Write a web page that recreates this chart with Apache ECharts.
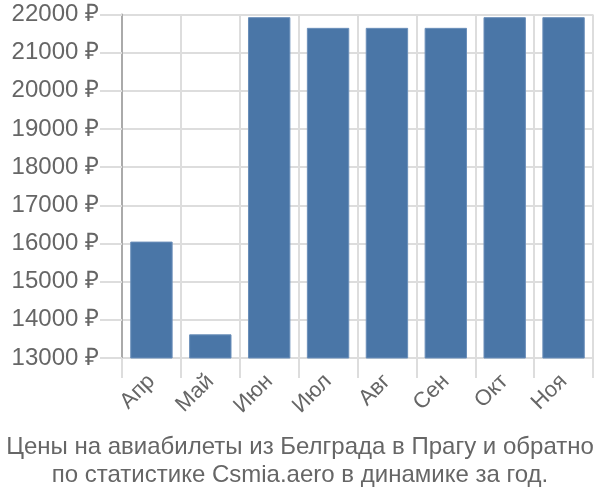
<!DOCTYPE html>
<html><head><meta charset="utf-8">
<script src="https://cdn.jsdelivr.net/npm/echarts@6/dist/echarts.min.js"></script>
<style>html,body{margin:0;padding:0;background:#fff}#c{width:600px;height:500px}</style>
</head><body><div id="c"></div>
<script>
var categories = ["Апр","Май","Июн","Июл","Авг","Сен","Окт","Ноя"];
var prices = [16050, 13620, 21930, 21650, 21650, 21650, 21930, 21930];
var titleLines = ["Цены на авиабилеты из Белграда в Прагу и обратно","по статистике Csmia.aero в динамике за год."];
var chart = echarts.init(document.getElementById('c'), null, {renderer:'canvas'});
chart.setOption({
  animation:false,
  textStyle:{fontFamily:'"Liberation Sans", Arial, sans-serif'},
  title:{text:titleLines.join('\n'), left:'center', bottom:6,
    textStyle:{fontSize:24, fontWeight:'normal', color:'#666', lineHeight:28, fontFamily:'"Liberation Sans", Arial, sans-serif'}},
  grid:{left:122, right:7, top:14.5, bottom:142},
  xAxis:{type:'category', data:categories,
    axisLine:{show:false},
    axisTick:{show:true, length:20, alignWithLabel:false, lineStyle:{color:'#ddd', width:2}},
    splitLine:{show:true, lineStyle:{color:'#ddd', width:2}},
    axisLabel:{rotate:45, fontSize:22, color:'#666', margin:20}},
  yAxis:{type:'value', min:13000, max:22000, interval:1000,
    axisLine:{show:true, lineStyle:{color:'#aaa', width:2}},
    axisTick:{show:true, length:22, lineStyle:{color:'#ddd', width:2}},
    splitLine:{show:true, lineStyle:{color:'#ddd', width:2}},
    axisLabel:{fontSize:24, color:'#666', margin:23, formatter:function(v){return v+' ₽';}}},
  series:[{type:'bar', data:prices, barCategoryGap:'28%',
    itemStyle:{color:'#4a76a7', borderColor:'#6b8fba', borderWidth:1}}]
});
</script></body></html>
